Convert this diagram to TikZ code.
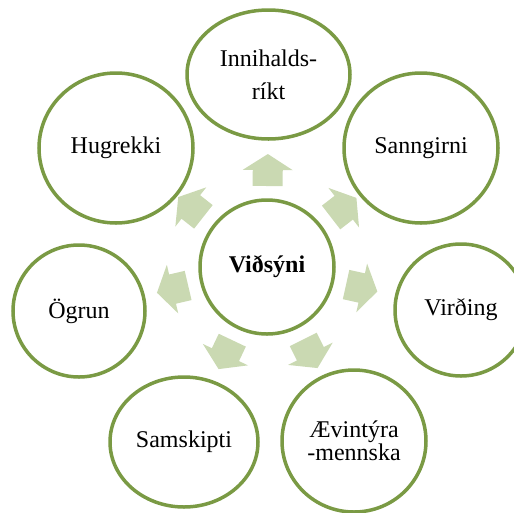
\documentclass[tikz,border=0pt]{standalone}
\usepackage{fontspec}
\setmainfont{Liberation Serif}
\usetikzlibrary{shapes.geometric,calc}
\definecolor{ringgreen}{RGB}{122,154,68}
\definecolor{arrowgreen}{RGB}{202,217,178}
\tikzset{
  ring/.style={ellipse, draw=ringgreen, line width=3.5pt, fill=white, inner sep=0pt,
    align=center, font=\fontsize{24}{33}\selectfont},
  blockarrow/.pic={\fill[arrowgreen] (81pt,-15pt) -- (97pt,-15pt) -- (97pt,-25pt) -- (113pt,0pt)
    -- (97pt,25pt) -- (97pt,15pt) -- (81pt,15pt) -- cycle;}
}
\begin{document}
\begin{tikzpicture}[x=1pt,y=-1pt]
\useasboundingbox (0,0) rectangle (514,512);
\clip (0,0) rectangle (514,512);
\node[ring, minimum width=134pt, minimum height=134pt, font=\fontsize{24}{29}\selectfont\bfseries] (c) at (267,267) {Viðsýni};
\node[ring, minimum width=163pt, minimum height=129pt] (n1) at (268.5,74.5) {Innihalds-\\ríkt};
\node[ring, minimum width=154pt, minimum height=150pt] (n2) at (421,148) {Sanngirni};
\node[ring, minimum width=132pt, minimum height=132pt] (n3) at (461,310) {Virðing};
\node[ring, minimum width=144pt, minimum height=142pt, font=\fontsize{24}{23}\selectfont] (n4) at (354,441) {Ævintýra\\-mennska};
\node[ring, minimum width=148pt, minimum height=130pt] (n5) at (184,442) {Samskipti};
\node[ring, minimum width=132pt, minimum height=132pt] (n6) at (79,311) {Ögrun};
\node[ring, minimum width=154pt, minimum height=150pt] (n7) at (116,148) {Hugrekki};
\foreach \t in {n1,n2,n3,n4,n5,n6,n7}{
  \path let \p1=($(\t)-(c)$), \n1={atan2(\y1,\x1)} in (c) pic[rotate=\n1]{blockarrow};
}
\end{tikzpicture}
\end{document}
